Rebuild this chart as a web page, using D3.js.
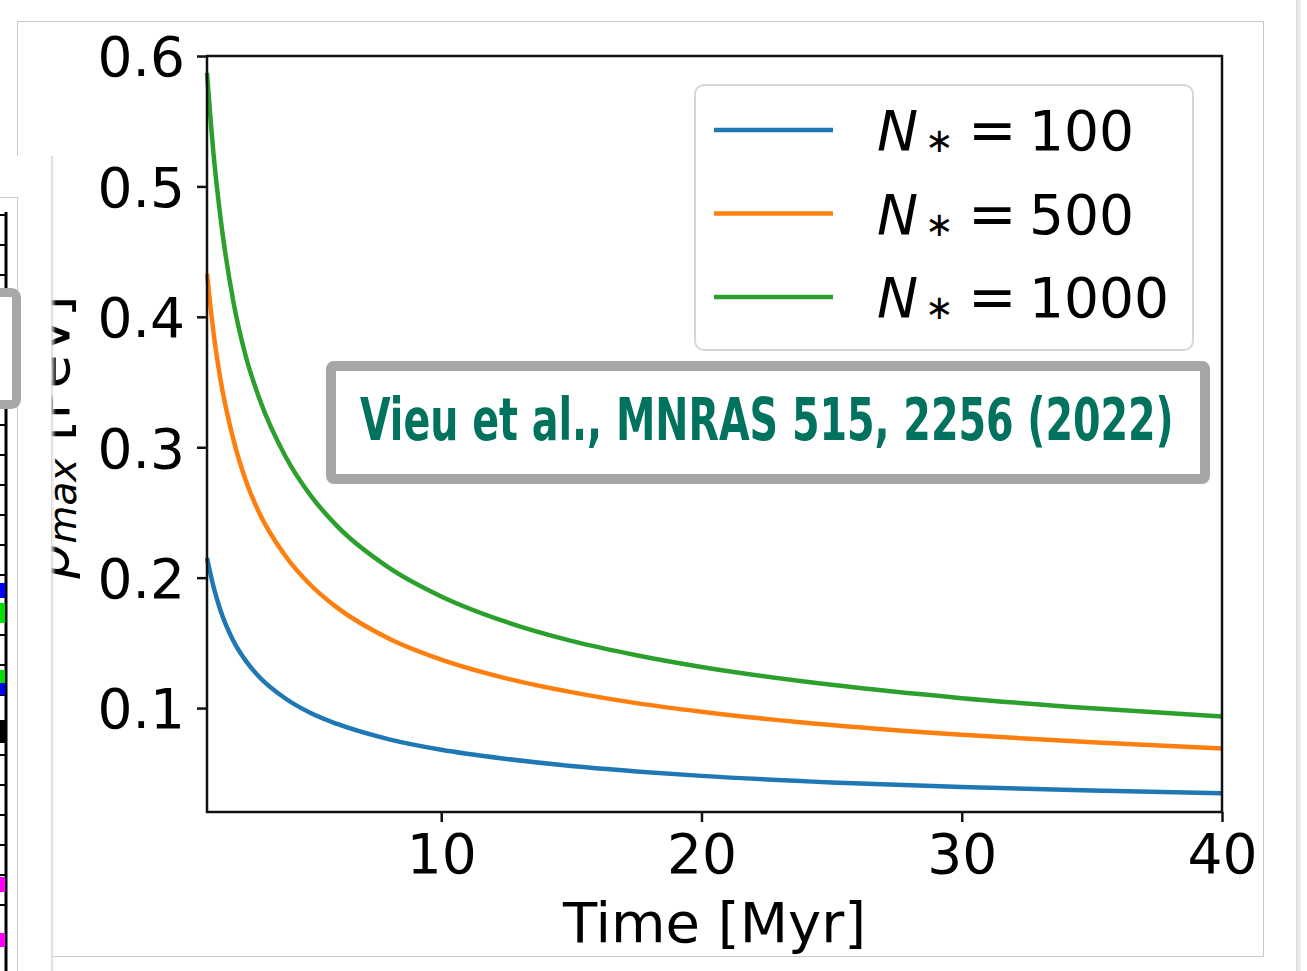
<!DOCTYPE html>
<html>
<head>
<meta charset="utf-8">
<script src="https://cdn.jsdelivr.net/npm/d3@7"></script>
<style>
  html, body { margin: 0; padding: 0; background: #fff; }
  svg { display: block; }
</style>
</head>
<body>
<svg id="chart" width="1307" height="971"></svg>
<script>
// p_max vs time for three cluster sizes (Vieu et al. 2022)
const times    = [1, 1.25, 1.5, 2, 2.5, 3, 4, 5, 6, 8, 10, 12.5, 15, 17.5, 20, 25, 30, 35, 40];
const pmax100  = [0.215, 0.193, 0.176, 0.152, 0.136, 0.124, 0.1075, 0.096, 0.0878, 0.076, 0.068, 0.061, 0.0555, 0.0514, 0.048, 0.043, 0.0394, 0.0367, 0.0346];
const pmax500  = [0.433, 0.388, 0.354, 0.307, 0.274, 0.250, 0.217, 0.194, 0.177, 0.1532, 0.1372, 0.1228, 0.1122, 0.1038, 0.0972, 0.087, 0.0795, 0.0737, 0.069];
const pmax1000 = [0.587, 0.525, 0.479, 0.413, 0.369, 0.338, 0.2935, 0.2625, 0.2395, 0.2075, 0.1856, 0.166, 0.1515, 0.1405, 0.1315, 0.1178, 0.1076, 0.0998, 0.0935];
const nStars   = ['100', '500', '1000'];
const colors   = ['#1f77b4', '#ff7f0e', '#2ca02c'];
const xTicks   = [10, 20, 30, 40];
const yTicks   = [0.1, 0.2, 0.3, 0.4, 0.5, 0.6];

// bits of the window behind (screenshot leftovers on the left edge)
const sideTicks = d3.range(215, 965, 30);
const sideMarks = [
  { y: 583, h: 15, c: '#0000ff' }, { y: 603, h: 20, c: '#00e000' },
  { y: 670, h: 13, c: '#00e000' }, { y: 683, h: 12, c: '#0000ff' },
  { y: 720, h: 23, c: '#000000' }, { y: 877, h: 15, c: '#ff00ff' },
  { y: 933, h: 14, c: '#ff00ff' }
];

const FONT = '"DejaVu Sans", sans-serif';
const svg = d3.select('#chart');

const plot = { left: 207, right: 1222, top: 56, bottom: 812 };
const x = d3.scaleLinear().domain([1, 40]).range([plot.left, plot.right]);
const y = d3.scaleLinear().domain([0.0203, 0.6]).range([plot.bottom, plot.top]);

// main window frame
svg.append('path')
  .attr('d', 'M17.5,156 V21.5 H1263.5 V956.5 H51')
  .attr('fill', 'none').attr('stroke', '#c8c8c8').attr('stroke-width', 1);

// right edge strip of the screen
const defs = svg.append('defs');
const rg = defs.append('linearGradient').attr('id', 'rstrip');
rg.append('stop').attr('offset', '0').attr('stop-color', '#dcdcdc');
rg.append('stop').attr('offset', '1').attr('stop-color', '#f4f4f4');
svg.append('rect').attr('x', 1296).attr('y', 0).attr('width', 5).attr('height', 971).attr('fill', 'url(#rstrip)');

// curves
const series = [pmax100, pmax500, pmax1000];
const line = d3.line()
  .x((d, i) => x(times[i]))
  .y(d => y(d))
  .curve(d3.curveMonotoneX);

svg.append('g').selectAll('path')
  .data(series)
  .join('path')
  .attr('d', d => line(d))
  .attr('fill', 'none')
  .attr('stroke', (d, i) => colors[i])
  .attr('stroke-width', 4.5)
  .attr('stroke-linecap', 'butt');

// axes
const xAxis = svg.append('g')
  .attr('transform', `translate(0,${plot.bottom})`)
  .call(d3.axisBottom(x).tickValues(xTicks).tickSize(10).tickPadding(10).tickFormat(d3.format('d')));
const yAxis = svg.append('g')
  .attr('transform', `translate(${plot.left},0)`)
  .call(d3.axisLeft(y).tickValues(yTicks).tickSize(10).tickPadding(12).tickFormat(d3.format('.1f')));

[xAxis, yAxis].forEach(ax => {
  ax.select('.domain').remove();
  ax.selectAll('.tick line').attr('stroke', '#111').attr('stroke-width', 2.5);
  ax.selectAll('.tick text')
    .attr('font-family', FONT).attr('font-size', 55).attr('fill', '#000');
});
xAxis.selectAll('.tick text').attr('dy', '0.75em');
yAxis.selectAll('.tick text').attr('dy', '0.36em');

// spines
svg.append('rect')
  .attr('x', plot.left).attr('y', plot.top)
  .attr('width', plot.right - plot.left).attr('height', plot.bottom - plot.top)
  .attr('fill', 'none').attr('stroke', '#111').attr('stroke-width', 2.5);

// x label
svg.append('text')
  .attr('x', (plot.left + plot.right) / 2).attr('y', 942)
  .attr('text-anchor', 'middle')
  .attr('font-family', FONT).attr('font-size', 56)
  .text('Time [Myr]');

// legend
const lg = svg.append('g');
lg.append('rect')
  .attr('x', 695).attr('y', 85).attr('width', 498).attr('height', 265)
  .attr('rx', 9).attr('fill', '#fff').attr('stroke', '#d6d6d6').attr('stroke-width', 2);
const rowY = [130, 213.5, 297];
nStars.forEach((n, i) => {
  lg.append('line')
    .attr('x1', 714).attr('x2', 833).attr('y1', rowY[i]).attr('y2', rowY[i])
    .attr('stroke', colors[i]).attr('stroke-width', 4.5);
  const t = lg.append('text')
    .attr('y', rowY[i] + 20)
    .attr('font-family', FONT).attr('font-size', 55).attr('fill', '#000');
  t.append('tspan').attr('x', 877).attr('font-style', 'italic').text('N');
  t.append('tspan').attr('x', 925).attr('dy', 2).attr('font-size', 34).text('\u2217');
  t.append('tspan').attr('x', 968).attr('dy', -2).attr('font-size', 58).text('=');
  t.append('tspan').attr('x', 1029).attr('font-size', 55).text(n);
});

// citation box
svg.append('rect')
  .attr('x', 331).attr('y', 366).attr('width', 874).attr('height', 113)
  .attr('rx', 3).attr('fill', '#fff').attr('stroke', '#a6a6a6').attr('stroke-width', 10);
const cite = svg.append('text')
  .attr('x', 0).attr('y', 0)
  .attr('font-family', '"DejaVu Sans Condensed", "DejaVu Sans", sans-serif')
  .attr('font-weight', 'bold').attr('font-size', 58)
  .attr('fill', '#00725e')
  .text('Vieu et al., MNRAS 515, 2256 (2022)');
const citeW = cite.node().getComputedTextLength();
cite.attr('transform', `translate(360,440) scale(${814 / citeW},1)`);

// y label (partly hidden behind the window on the left)
const yl = svg.append('text')
  .attr('transform', 'translate(69,437) rotate(-90)')
  .attr('text-anchor', 'middle')
  .attr('font-family', FONT).attr('font-size', 55).attr('fill', '#000');
yl.append('tspan').attr('font-style', 'italic').text('p');
yl.append('tspan').attr('font-style', 'italic').attr('font-size', 39).attr('dy', 7).text('max');
yl.append('tspan').attr('dy', -7).text(' [PeV]');

// window on the left
const sg = defs.append('linearGradient').attr('id', 'lshadow');
sg.append('stop').attr('offset', '0').attr('stop-color', '#d4d4d4');
sg.append('stop').attr('offset', '1').attr('stop-color', '#ffffff').attr('stop-opacity', 0);
const side = svg.append('g');
side.append('rect').attr('x', 0).attr('y', 156).attr('width', 51).attr('height', 815).attr('fill', '#fff');
side.append('rect').attr('x', 51).attr('y', 156).attr('width', 5).attr('height', 815).attr('fill', 'url(#lshadow)');
side.append('path').attr('d', 'M0,197.5 H17.5 V971')
  .attr('fill', 'none').attr('stroke', '#c8c8c8').attr('stroke-width', 1);
side.append('line').attr('x1', 6).attr('x2', 6).attr('y1', 212).attr('y2', 971)
  .attr('stroke', '#000').attr('stroke-width', 3);
side.selectAll('line.tk')
  .data(sideTicks)
  .join('line').attr('class', 'tk')
  .attr('x1', 0).attr('x2', 6).attr('y1', d => d).attr('y2', d => d)
  .attr('stroke', '#000').attr('stroke-width', 2);
side.selectAll('rect.mk')
  .data(sideMarks)
  .join('rect').attr('class', 'mk')
  .attr('x', 0).attr('width', 5).attr('y', d => d.y).attr('height', d => d.h)
  .attr('fill', d => d.c);
side.append('rect')
  .attr('x', -30).attr('y', 292.5).attr('width', 46.5).attr('height', 112)
  .attr('rx', 5).attr('fill', '#fff').attr('stroke', '#a8a8a8').attr('stroke-width', 9);
</script>
</body>
</html>
